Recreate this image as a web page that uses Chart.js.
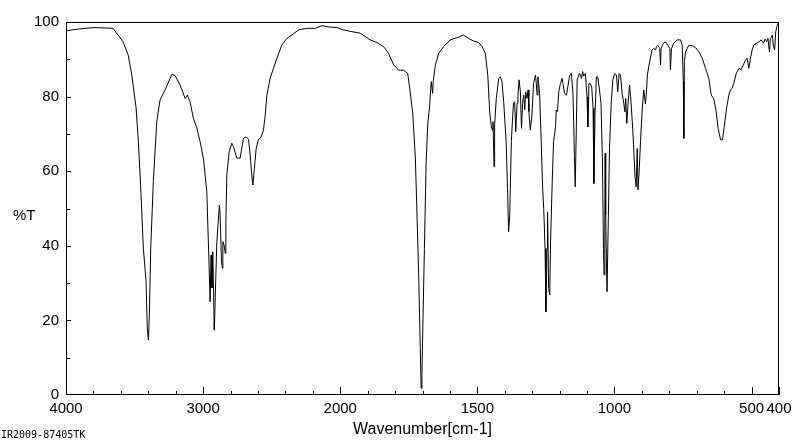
<!DOCTYPE html>
<html>
<head>
<meta charset="utf-8">
<script src="https://cdn.jsdelivr.net/npm/chart.js@4.4.1/dist/chart.umd.min.js"></script>
<style>
  html, body { margin: 0; padding: 0; background: #fff; }
  #wrap { width: 800px; height: 441px; }
</style>
</head>
<body>
<div id="wrap"><canvas id="irChart" width="800" height="441"></canvas></div>
<script>
// IR spectrum, wavenumber (cm-1) vs transmittance (%T)
const wavenumbers = [
  4000, 3934, 3861, 3788, 3715, 3657, 3620, 3584, 3547, 3520, 3489, 3472, 3455, 3436, 3416, 3407, 3399, 3392, 3382, 3363,
  3338, 3314, 3277, 3228, 3204, 3168, 3131, 3115, 3095, 3071, 3046, 3022, 2998, 2973, 2956, 2949, 2942, 2936, 2929, 2920,
  2918, 2907, 2900, 2881, 2876, 2866, 2859, 2856, 2847, 2839, 2834, 2827, 2810, 2791, 2779, 2754, 2730, 2706, 2688, 2669,
  2657, 2645, 2637, 2626, 2613, 2596, 2579, 2560, 2547, 2535, 2511, 2487, 2462, 2426, 2389, 2353, 2304, 2243, 2183, 2134,
  2085, 2024, 1988, 1964, 1927, 1891, 1866, 1842, 1824, 1805, 1787, 1769, 1754, 1745, 1736, 1726, 1720, 1714, 1708, 1705,
  1702, 1698, 1693, 1687, 1681, 1674, 1668, 1663, 1661, 1653, 1641, 1623, 1599, 1574, 1550, 1532, 1514, 1495, 1483, 1471,
  1462, 1455, 1449, 1445, 1443, 1439, 1437, 1431, 1422, 1416, 1410, 1404, 1395, 1390, 1386, 1382, 1380, 1376, 1371, 1368,
  1364, 1360, 1355, 1352, 1348, 1343, 1339, 1335, 1331, 1327, 1324, 1319, 1315, 1312, 1307, 1301, 1295, 1288, 1285, 1282,
  1279, 1273, 1267, 1262, 1258, 1253, 1250, 1246, 1244, 1240, 1236, 1233, 1227, 1222, 1215, 1212, 1208, 1203, 1197, 1191,
  1182, 1175, 1169, 1163, 1157, 1151, 1146, 1143, 1140, 1136, 1130, 1127, 1120, 1116, 1112, 1106, 1100, 1097, 1093, 1088,
  1083, 1078, 1075, 1071, 1066, 1061, 1055, 1049, 1044, 1040, 1038, 1035, 1034, 1032, 1029, 1027, 1023, 1018, 1012, 1006,
  999, 993, 988, 983, 978, 972, 966, 962, 959, 955, 950, 945, 941, 935, 930, 925, 921, 917, 914, 910,
  905, 899, 893, 887, 883, 880, 875, 869, 863, 857, 850, 847, 842, 835, 832, 830, 822, 814, 806, 798,
  796, 792, 784, 771, 759, 753, 749, 747, 745, 741, 735, 729, 717, 704, 692, 680, 668, 656, 647, 638,
  629, 622, 613, 606, 599, 591, 583, 577, 571, 565, 556, 546, 538, 530, 522, 516, 510, 504, 498, 492,
  482, 473, 465, 457, 451, 445, 440, 435, 431, 424, 421, 416, 412, 406, 401, 400
];
const transmittance = [
  97.6, 98.0, 98.3, 98.5, 98.4, 98.3, 96.5, 94.7, 91.2, 85.8, 77.0, 67.9, 55.5, 39.4, 30.4, 18.0, 14.7, 21.4, 39.4, 57.2,
  73.3, 79.1, 81.8, 86.0, 85.6, 83.1, 79.5, 80.4, 78.6, 74.2, 71.6, 67.9, 63.5, 54.5, 34.0, 25.0, 37.5, 28.7, 38.4, 19.7,
  17.4, 32.2, 41.1, 50.9, 48.3, 35.7, 34.0, 41.1, 40.2, 38.0, 46.5, 59.0, 65.2, 67.5, 66.6, 63.5, 63.5, 68.8, 69.2, 68.6,
  64.3, 59.0, 56.3, 60.8, 66.1, 68.6, 69.0, 71.0, 75.0, 80.4, 84.9, 87.6, 90.3, 93.8, 95.6, 96.5, 97.9, 98.3, 98.3, 99.0,
  98.7, 98.5, 97.9, 97.5, 97.0, 95.2, 94.5, 93.4, 91.6, 88.5, 87.1, 87.1, 86.2, 81.3, 75.9, 63.5, 48.3, 32.2, 12.5, 1.8,
  5.4, 21.4, 39.3, 61.7, 72.4, 77.7, 84.0, 80.9, 84.0, 88.5, 91.6, 93.4, 95.2, 95.8, 96.5, 95.6, 94.9, 94.5, 93.4, 91.6,
  85.8, 75.9, 71.9, 71.0, 73.3, 61.2, 72.4, 79.5, 84.9, 85.3, 84.0, 78.6, 67.9, 55.4, 43.8, 48.0, 55.0, 68.0, 75.0, 78.2,
  78.6, 70.6, 78.2, 80.0, 84.5, 81.3, 71.5, 78.2, 80.4, 76.5, 81.3, 79.5, 81.8, 76.0, 71.0, 75.0, 83.5, 85.8, 83.5, 80.4,
  85.3, 80.9, 67.5, 55.8, 50.0, 39.3, 22.3, 39.3, 49.1, 28.6, 26.8, 41.1, 57.2, 67.9, 71.9, 76.4, 76.0, 81.3, 83.5, 84.9,
  80.9, 80.4, 83.1, 85.8, 86.2, 80.4, 63.9, 55.8, 67.9, 84.5, 85.8, 86.2, 84.9, 86.7, 85.5, 86.2, 79.9, 71.9, 83.5, 83.5,
  82.6, 76.9, 56.7, 75.0, 85.3, 85.3, 82.0, 78.2, 63.0, 39.3, 32.2, 48.3, 64.8, 48.3, 34.0, 27.7, 44.7, 66.1, 78.0, 84.5,
  86.2, 85.8, 81.3, 86.2, 85.8, 80.9, 78.2, 75.9, 79.5, 72.8, 78.6, 83.1, 79.9, 73.3, 66.5, 58.5, 55.8, 66.1, 55.0, 60.0,
  67.9, 76.4, 81.8, 78.0, 81.5, 85.8, 88.0, 90.3, 92.5, 92.9, 92.5, 93.4, 93.8, 92.9, 88.5, 92.9, 94.3, 94.7, 93.8, 92.9,
  87.2, 92.9, 94.3, 95.2, 95.2, 93.8, 84.0, 68.8, 89.4, 92.0, 92.9, 93.7, 93.7, 93.1, 92.0, 90.3, 87.6, 84.9, 80.4, 79.5,
  75.9, 71.5, 68.4, 68.4, 72.4, 76.9, 80.4, 81.8, 82.2, 83.5, 86.2, 87.6, 87.2, 88.5, 89.8, 90.3, 87.6, 90.3, 92.5, 93.8,
  94.3, 94.7, 95.2, 94.3, 95.4, 94.7, 95.6, 92.0, 95.6, 96.5, 93.8, 92.5, 97.4, 99.2, 100.0, 99.6
];

const xLabels = [4000, 3000, 2000, 1500, 1000, 500, 400];
const yLabels = [0, 20, 40, 60, 80, 100];

// the instrument halves the scale above 2000 cm-1
function toAxis(wn) {
  return wn >= 2000 ? (4000 - wn) / 2 : 1000 + (2000 - wn);
}

const xMinor = [];
for (let w = 4000; w > 2000; w -= 200) xMinor.push(w);
for (let w = 2000; w >= 400; w -= 100) xMinor.push(w);

const FONT = "'Liberation Sans', Arial, sans-serif";

const frame = {
  id: 'frame',
  afterDraw(chart) {
    const { ctx, chartArea: a } = chart;
    const xs = chart.scales.x, ys = chart.scales.y;
    ctx.save();
    ctx.strokeStyle = '#000';
    ctx.lineWidth = 1;
    ctx.strokeRect(Math.round(a.left) + 0.5, Math.round(a.top) + 0.5,
      Math.round(a.right - a.left) - 1, Math.round(a.bottom - a.top) - 1);
    ctx.beginPath();
    xMinor.forEach(w => {
      const px = Math.round(xs.getPixelForValue(toAxis(w))) + 0.5;
      const len = xLabels.includes(w) ? 8 : 4;
      ctx.moveTo(px, a.bottom);
      ctx.lineTo(px, a.bottom - len);
    });
    for (let v = 10; v < 100; v += 10) {
      const py = Math.round(ys.getPixelForValue(v)) + 0.5;
      const len = v % 20 === 0 ? 5 : 4;
      ctx.moveTo(a.left, py);
      ctx.lineTo(a.left + len, py);
    }
    ctx.stroke();
    ctx.fillStyle = '#000';
    ctx.font = '15px ' + FONT;
    ctx.textAlign = 'left';
    ctx.textBaseline = 'middle';
    ctx.fillText('%T', 13, 216);
    ctx.font = '10px "DejaVu Sans Mono", monospace';
    ctx.textBaseline = 'alphabetic';
    ctx.fillText('IR2009-87405TK', 1, 438);
    ctx.restore();
  }
};

const ctx = document.getElementById('irChart').getContext('2d');
const irChart = new Chart(ctx, {
  type: 'line',
  data: {
    datasets: [{
      data: wavenumbers.map((w, i) => ({ x: toAxis(w), y: transmittance[i] })),
      borderColor: '#000',
      borderWidth: 1,
      pointRadius: 0,
      tension: 0,
      fill: false
    }]
  },
  options: {
    responsive: false,
    animation: false,
    events: [],
    layout: { padding: { left: 0, right: 21, top: 22, bottom: 0 } },
    plugins: { legend: { display: false }, tooltip: { enabled: false } },
    scales: {
      x: {
        type: 'linear',
        min: 0,
        max: 2600,
        grid: { display: false, drawTicks: false },
        border: { display: false },
        afterBuildTicks: s => { s.ticks = xLabels.map(w => ({ value: toAxis(w) })); },
        afterFit: s => { s.height = 46; },
        ticks: {
          autoSkip: false,
          maxRotation: 0,
          padding: 5,
          color: '#000',
          font: { family: FONT, size: 15 },
          callback: (v, i) => xLabels[i]
        },
        title: {
          display: true,
          text: 'Wavenumber[cm-1]',
          color: '#000',
          font: { family: FONT, size: 16 },
          padding: { top: 0, bottom: 2 }
        }
      },
      y: {
        min: 0,
        max: 100,
        grid: { display: false, drawTicks: false },
        border: { display: false },
        afterBuildTicks: s => { s.ticks = yLabels.map(v => ({ value: v })); },
        afterFit: s => { s.width = 66; },
        ticks: {
          padding: 7,
          color: '#000',
          font: { family: FONT, size: 15 }
        }
      }
    }
  },
  plugins: [frame]
});
</script>
</body>
</html>
